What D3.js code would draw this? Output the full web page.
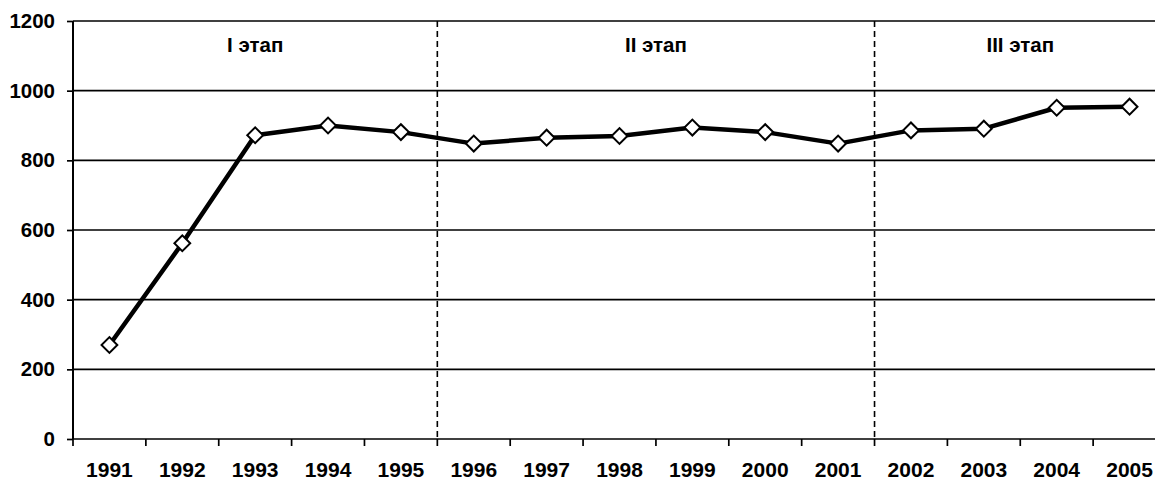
<!DOCTYPE html>
<html>
<head>
<meta charset="utf-8">
<script src="https://cdn.jsdelivr.net/npm/d3@7"></script>
<style>
body { margin:0; background:#fff; }
svg text { font-family: "Liberation Sans", Arial, sans-serif; font-weight: bold; fill:#000; }
</style>
</head>
<body>
<svg></svg>
<script>
var years = ["1991","1992","1993","1994","1995","1996","1997","1998","1999","2000","2001","2002","2003","2004","2005"];
var values = [270, 562, 872, 900, 881, 848, 865, 870, 894, 881, 848, 886, 891, 951, 954];
var yTicks = [0, 200, 400, 600, 800, 1000, 1200];
var stageNames = ["I этап", "II этап", "III этап"];
var stageStart = ["1991", "1996", "2002"];
var stageEnd = ["1995", "2001", "2005"];

var drawChart = function()
{
    var screen = {width:1155, height:481}
    var plot = {left:73, right:1166, top:21, bottom:439}

    var svg = d3.select("svg")
        .attr("width", screen.width)
        .attr("height", screen.height)

    var xScale = d3.scaleBand()
        .domain(years)
        .range([plot.left, plot.right])

    var yScale = d3.scaleLinear()
        .domain([0, 1200])
        .range([plot.bottom, plot.top])

    // horizontal grid
    svg.append("g")
        .selectAll("line")
        .data(yTicks)
        .enter()
        .append("line")
        .attr("x1", plot.left)
        .attr("x2", screen.width)
        .attr("y1", function(d){ return yScale(d) })
        .attr("y2", function(d){ return yScale(d) })
        .attr("stroke", "#000")
        .attr("stroke-width", 1.7)

    // stage separators
    svg.append("g")
        .selectAll("line")
        .data(stageStart.slice(1))
        .enter()
        .append("line")
        .attr("x1", function(d){ return xScale(d) })
        .attr("x2", function(d){ return xScale(d) })
        .attr("y1", plot.top)
        .attr("y2", plot.bottom)
        .attr("stroke", "#000")
        .attr("stroke-width", 1.6)
        .attr("stroke-dasharray", "6,4")

    // stage labels
    svg.append("g")
        .selectAll("text")
        .data(stageNames)
        .enter()
        .append("text")
        .text(function(d){ return d })
        .attr("x", function(d, i){
            return (xScale(stageStart[i]) + xScale(stageEnd[i]) + xScale.bandwidth()) / 2;
        })
        .attr("y", 52)
        .attr("text-anchor", "middle")
        .style("font-size", "20.5px")

    // y axis
    var yAxis = d3.axisLeft(yScale)
        .tickValues(yTicks)
        .tickFormat(d3.format("d"))
        .tickSize(6)
        .tickPadding(12)
    var yg = svg.append("g")
        .attr("transform", "translate(" + plot.left + ",0)")
        .call(yAxis)
    yg.select(".domain").remove()
    yg.selectAll(".tick line").attr("stroke-width", 1.7)
    yg.selectAll("text").style("font-size", "20.5px")
    svg.append("line")
        .attr("x1", plot.left).attr("x2", plot.left)
        .attr("y1", plot.top).attr("y2", plot.bottom)
        .attr("stroke", "#000").attr("stroke-width", 2)

    // x axis: ticks at band edges
    var xg = svg.append("g")
    xg.selectAll("line")
        .data(years)
        .enter()
        .append("line")
        .attr("x1", function(d){ return xScale(d) })
        .attr("x2", function(d){ return xScale(d) })
        .attr("y1", plot.bottom)
        .attr("y2", plot.bottom + 7)
        .attr("stroke", "#000")
        .attr("stroke-width", 1.7)
    xg.selectAll("text")
        .data(years)
        .enter()
        .append("text")
        .text(function(d){ return d })
        .attr("x", function(d){ return xScale(d) + xScale.bandwidth() / 2 })
        .attr("y", 477)
        .attr("text-anchor", "middle")
        .style("font-size", "21px")

    // series line
    var line = d3.line()
        .x(function(d, i){ return xScale(years[i]) + xScale.bandwidth() / 2 })
        .y(function(d){ return yScale(d) })
    svg.append("path")
        .datum(values)
        .attr("d", line)
        .attr("fill", "none")
        .attr("stroke", "#000")
        .attr("stroke-width", 4.5)
        .attr("stroke-linejoin", "round")

    // diamond markers
    svg.append("g")
        .selectAll("path")
        .data(values)
        .enter()
        .append("path")
        .attr("d", d3.symbol().type(d3.symbolSquare).size(125))
        .attr("transform", function(d, i){
            return "translate(" + (xScale(years[i]) + xScale.bandwidth() / 2) + "," + yScale(d) + ") rotate(45)";
        })
        .attr("fill", "#fff")
        .attr("stroke", "#000")
        .attr("stroke-width", 2)
}

drawChart();
</script>
</body>
</html>
